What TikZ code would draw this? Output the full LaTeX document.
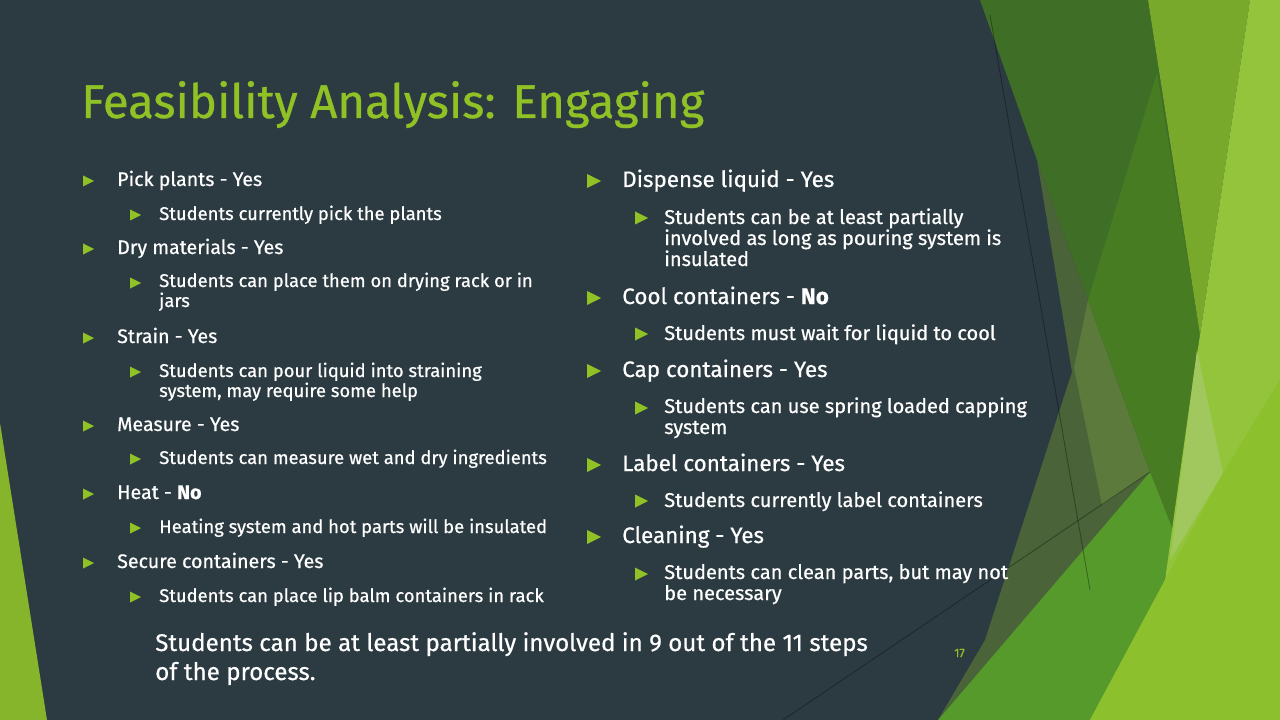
\documentclass[tikz,border=0pt]{standalone}
\usepackage{fontspec}
\setmainfont{Fira Sans}[FakeBold=0.6]
\definecolor{slatebg}{HTML}{2C3B42}
\definecolor{facetgreen}{HTML}{90C226}
\definecolor{leafdark}{HTML}{3F6F26}
\definecolor{leafdeep}{HTML}{477C23}
\definecolor{leafmid}{HTML}{78A92B}
\definecolor{leaflight}{HTML}{93C43B}
\definecolor{leaflow}{HTML}{8CC02D}
\definecolor{leafpale}{HTML}{A0C85E}
\definecolor{leafgrass}{HTML}{569A2B}
\definecolor{olivedark}{HTML}{4A6339}
\definecolor{olivelight}{HTML}{5B7A3C}
\definecolor{stripgreen}{HTML}{86B52B}

\newcommand{\bul}[3]{\fill[facetgreen] (#1,#2-#3/2) -- (#1+#3,#2) -- (#1,#2+#3/2) -- cycle;}

\begin{document}
\begin{tikzpicture}[x=0.75pt, y=-0.75pt, line join=round,
    every node/.style={inner sep=0pt, text=white},
    lefttop/.style={anchor=base west, font=\fontsize{14.7}{18}\selectfont},
    leftsub/.style={anchor=base west, align=left, font=\fontsize{13.8}{15}\selectfont},
    righttop/.style={anchor=base west, font=\fontsize{16.8}{20}\selectfont},
    rightsub/.style={anchor=base west, align=left, font=\fontsize{15}{15.75}\selectfont},
    hairline/.style={black, opacity=0.35, line width=0.6pt}]

    \fill[slatebg] (0,0) rectangle (1280,720);
    \useasboundingbox (0,0) rectangle (1280,720);

    % facets
    \fill[stripgreen] (0,423) -- (47,720) -- (0,720) -- cycle;
    \fill[olivedark] (1037,160) -- (1088,300) -- (1150,472) -- (938,720) -- (985,640) -- (1072,372) -- cycle;
    \fill[olivelight] (1088,300) -- (1150,472) -- (1102,505) -- (1074,368) -- cycle;
    \fill[leafdark] (980,0) -- (1148,0) -- (1200,335) -- (1193,380) -- (1173,530) -- (1150,472) -- (1088,300) -- (1037,160) -- cycle;
    \fill[leafdeep] (1157,73) -- (1200,335) -- (1193,380) -- (1173,530) -- (1150,472) -- (1088,300) -- cycle;
    \fill[leafmid] (1148,0) -- (1250,0) -- (1200,335) -- cycle;
    \fill[leafgrass] (1150,472) -- (1173,530) -- (1165,580) -- (1090,720) -- (938,720) -- cycle;
    \fill[leaflight] (1250,0) -- (1280,0) -- (1280,720) -- (1090,720) -- (1165,580) -- (1193,380) -- (1200,335) -- cycle;
    \fill[leaflow] (1280,380) -- (1280,720) -- (1090,720) -- (1165,580) -- (1223,473) -- cycle;
    \fill[leafpale] (1197,350) -- (1223,473) -- (1170,560) -- cycle;
    \draw[hairline] (990,15) -- (1090,590);
    \draw[hairline] (783,720) -- (1150,472);

    \node[anchor=base west, text=facetgreen, font=\fontsize{35.5}{40}\selectfont] (title) at (81,118) {Feasibility Analysis: Engaging};

    % left column
    \node[lefttop] (pick) at (117,186) {Pick plants - Yes};
    \node[leftsub] (pickwho) at (159,220) {Students currently pick the plants};
    \node[lefttop] (dry) at (117,254) {Dry materials - Yes};
    \node[leftsub] (drywho) at (159,307) {Students can place them on drying rack or in\\jars};
    \node[lefttop] (strain) at (117,343) {Strain - Yes};
    \node[leftsub] (strainwho) at (159,397) {Students can pour liquid into straining\\system, may require some help};
    \node[lefttop] (measure) at (117,431) {Measure - Yes};
    \node[leftsub] (measurewho) at (159,464) {Students can measure wet and dry ingredients};
    \node[lefttop] (heat) at (117,499) {Heat - \textbf{No}};
    \node[leftsub] (heatwho) at (159,533) {Heating system and hot parts will be insulated};
    \node[lefttop] (secure) at (117,568) {Secure containers - Yes};
    \node[leftsub] (securewho) at (159,602) {Students can place lip balm containers in rack};

    \foreach \y in {181,249,338,426,494,563} {\bul{83}{\y}{11}}
    \foreach \y in {215,283,372,459,528,597} {\bul{130}{\y}{11}}

    % right column
    \node[righttop] (dispense) at (622,187) {Dispense liquid - Yes};
    \node[rightsub] (dispensewho) at (664,266) {Students can be at least partially\\involved as long as pouring system is\\insulated};
    \node[righttop] (cool) at (622,304) {Cool containers - \textbf{No}};
    \node[rightsub] (coolwho) at (664,340) {Students must wait for liquid to cool};
    \node[righttop] (cap) at (622,377) {Cap containers - Yes};
    \node[rightsub] (capwho) at (664,434) {Students can use spring loaded capping\\system};
    \node[righttop] (label) at (622,471) {Label containers - Yes};
    \node[rightsub] (labelwho) at (664,507) {Students currently label containers};
    \node[righttop] (clean) at (622,543) {Cleaning - Yes};
    \node[rightsub] (cleanwho) at (664,600) {Students can clean parts, but may not\\be necessary};

    \foreach \y in {181,298,371,465,537} {\bul{587}{\y}{14}}
    \foreach \y in {218,334,408,501,574} {\bul{635}{\y}{13}}

    \node[anchor=base west, align=left, font=\fontsize{18.1}{21.75}\selectfont] (summary) at (155,680) {Students can be at least partially involved in 9 out of the 11 steps\\of the process.};
    \node[anchor=base west, text=facetgreen, font=\fontsize{9}{10}\selectfont] (pageno) at (954,657) {17};

\end{tikzpicture}
\end{document}
